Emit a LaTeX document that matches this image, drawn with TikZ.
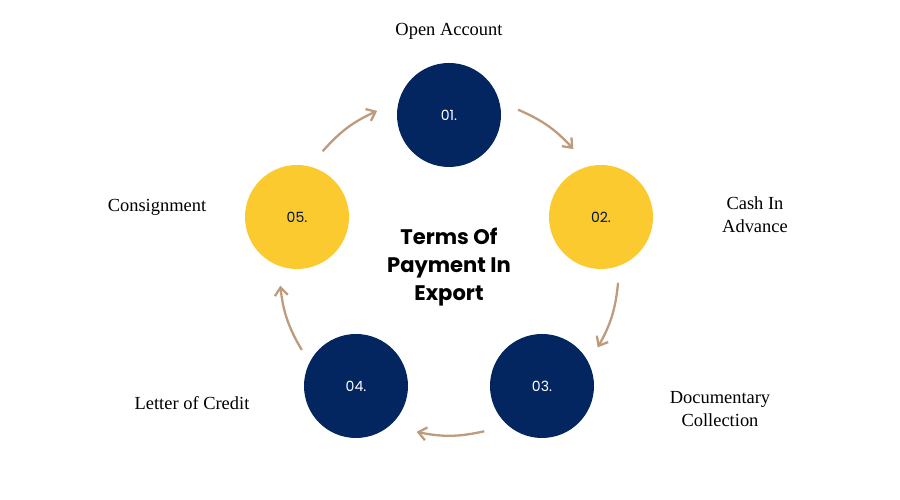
\documentclass[tikz,border=0pt]{standalone}
\usepackage{fontspec}
\setmainfont{Liberation Serif}
\newfontfamily\popfont{Poppins}
\usetikzlibrary{arrows.meta,positioning,calc}
\definecolor{navy}{RGB}{3,37,96}
\definecolor{sun}{RGB}{251,202,46}
\definecolor{tan}{RGB}{190,155,125}

\begin{document}
\begin{tikzpicture}[
    step circle/.style={circle, minimum size=2.08cm, inner sep=0pt, text=white, font=\popfont\fontsize{8}{10}\selectfont},
    darkstep/.style={step circle, fill=navy},
    lightstep/.style={step circle, fill=sun, text=navy!60!black},
    caption/.style={align=center, font=\fontsize{10.5}{13}\selectfont},
    link/.style={draw=tan, line width=1.3pt, -{Straight Barb[length=1.6mm,width=2.6mm]}},
]
\useasboundingbox (0,0) rectangle (18,10);

\coordinate (mid) at (8.98,4.7);

\node[darkstep]  (s1) at (8.98,7.70)  {01.};
\node[lightstep] (s2) at (12.02,5.66) {02.};
\node[darkstep]  (s3) at (10.84,2.28) {03.};
\node[darkstep]  (s4) at (7.12,2.28)  {04.};
\node[lightstep] (s5) at (5.94,5.66)  {05.};

\node[align=center, font=\popfont\bfseries\fontsize{12}{16}\selectfont] (title) at (8.98,4.66) {Terms Of\\Payment In\\Export};

\node[caption] (c1) at (8.98,9.38) {Open Account};
\node[caption] (c2) at (15.1,5.7)  {Cash In\\Advance};
\node[caption] (c3) at (14.4,1.82) {Documentary\\Collection};
\node[caption] (c4) at (3.84,1.94) {Letter of Credit};
\node[caption] (c5) at (3.14,5.86) {Consignment};

% arrows on a ring around the centre
\foreach \i/\a in {1/90,2/18,3/-54,4/-126,5/162}{
    \coordinate (out\i) at ($(mid)+(\a-24:3.4)$);
    \coordinate (in\i)  at ($(mid)+(\a+25:3.4)$);
}
\foreach \i/\j in {1/2,2/3,3/4,4/5,5/1}
    \draw[link] (out\i) to[bend left=12] (in\j);

\end{tikzpicture}
\end{document}
